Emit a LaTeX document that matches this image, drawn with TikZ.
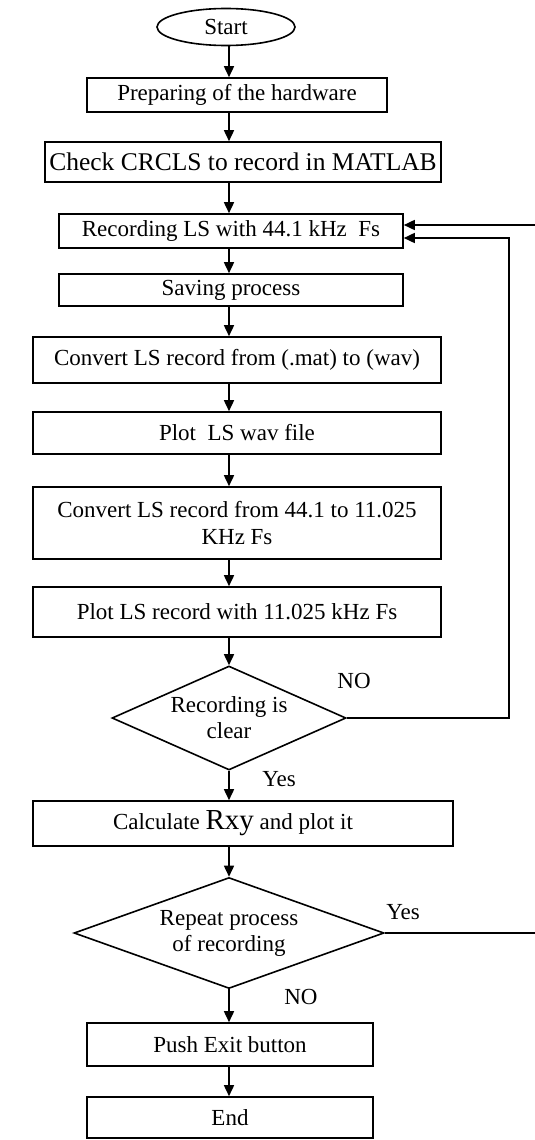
\documentclass[tikz,border=0pt]{standalone}
\usepackage{fontspec}
\setmainfont{Liberation Serif}
\usetikzlibrary{shapes.geometric,arrows.meta}
\tikzset{
  base/.style={draw=black, line width=1.6pt, inner sep=0pt, align=center,
    font=\fontsize{23}{27}\selectfont},
  procbox/.style={base, rectangle},
  termnode/.style={base, ellipse},
  decision/.style={base, diamond},
  lbl/.style={font=\fontsize{23}{27}\selectfont, inner sep=0pt},
  arr/.style={line width=1.6pt, -{Triangle[length=11pt,width=10pt]}},
}
\begin{document}
\begin{tikzpicture}[x=1pt, y=-1pt]
\useasboundingbox (0,0) rectangle (535,1140);
\coordinate (spine) at (229,0);
% nodes
\node[termnode, minimum width=138pt, minimum height=37pt] (start) at (226,27) {Start};
\node[procbox, minimum width=300pt, minimum height=34pt] (prep) at (237,95) {Preparing of the hardware};
\node[procbox, minimum width=396pt, minimum height=40pt, font=\fontsize{25.5}{29}\selectfont] (check) at (243,162) {Check CRCLS to record in MATLAB};
\node[procbox, minimum width=344pt, minimum height=34pt] (rec) at (231,231) {Recording LS with 44.1 kHz\ \ Fs};
\node[procbox, minimum width=344pt, minimum height=32pt] (save) at (231,290) {Saving process};
\node[procbox, minimum width=408pt, minimum height=46pt] (conv1) at (237,360) {Convert LS record from (.mat) to (wav)};
\node[procbox, minimum width=408pt, minimum height=42pt] (plot1) at (237,433) {Plot\ \ LS wav file};
\node[procbox, minimum width=408pt, minimum height=72pt] (conv2) at (237,523) {Convert LS record from 44.1 to 11.025\\KHz Fs};
\node[procbox, minimum width=408pt, minimum height=50pt] (plot2) at (237,612) {Plot LS record with 11.025 kHz Fs};
\node[decision, minimum width=234pt, minimum height=104pt, aspect=2.25, font=\fontsize{23}{26}\selectfont] (d1) at (229,718) {Recording is\\clear};
\node[procbox, minimum width=420pt, minimum height=45pt] (calc) at (243,823.5) {Calculate {\fontsize{29}{29}\selectfont Rxy} and plot it\hspace*{20pt}};
\node[decision, minimum width=310pt, minimum height=111pt, aspect=2.79, font=\fontsize{23}{26}\selectfont] (d2) at (229,933) {Repeat process\\of recording};
\node[procbox, minimum width=286pt, minimum height=43pt] (exit) at (230,1044.5) {Push Exit button};
\node[procbox, minimum width=286pt, minimum height=41pt] (end) at (230,1117.5) {End};
% labels
\node[lbl] (no1) at (354,681) {NO};
\node[lbl] (yes1) at (279,779) {Yes};
\node[lbl] (yes2) at (403,912) {Yes};
\node[lbl] (no2) at (301,997) {NO};
% main flow
\draw[arr] (start.south -| spine) -- (prep.north -| spine);
\draw[arr] (prep.south -| spine) -- (check.north -| spine);
\draw[arr] (check.south -| spine) -- (rec.north -| spine);
\draw[arr] (rec.south -| spine) -- (save.north -| spine);
\draw[arr] (save.south -| spine) -- (conv1.north -| spine);
\draw[arr] (conv1.south -| spine) -- (plot1.north -| spine);
\draw[arr] (plot1.south -| spine) -- (conv2.north -| spine);
\draw[arr] (conv2.south -| spine) -- (plot2.north -| spine);
\draw[arr] (plot2.south -| spine) -- (d1.north);
\draw[arr] (d1.south) -- (calc.north -| spine);
\draw[arr] (calc.south -| spine) -- (d2.north);
\draw[arr] (d2.south) -- (exit.north -| spine);
\draw[arr] (exit.south -| spine) -- (end.north -| spine);
% feedback loops
\coordinate (fbA) at (509,718);
\coordinate (fbB) at (541,933);
\draw[arr] (d1.east) -- (fbA) |- ([yshift=-7pt]rec.east);
\draw[arr] (d2.east) -- (fbB) |- ([yshift=6pt]rec.east);
\end{tikzpicture}
\end{document}
